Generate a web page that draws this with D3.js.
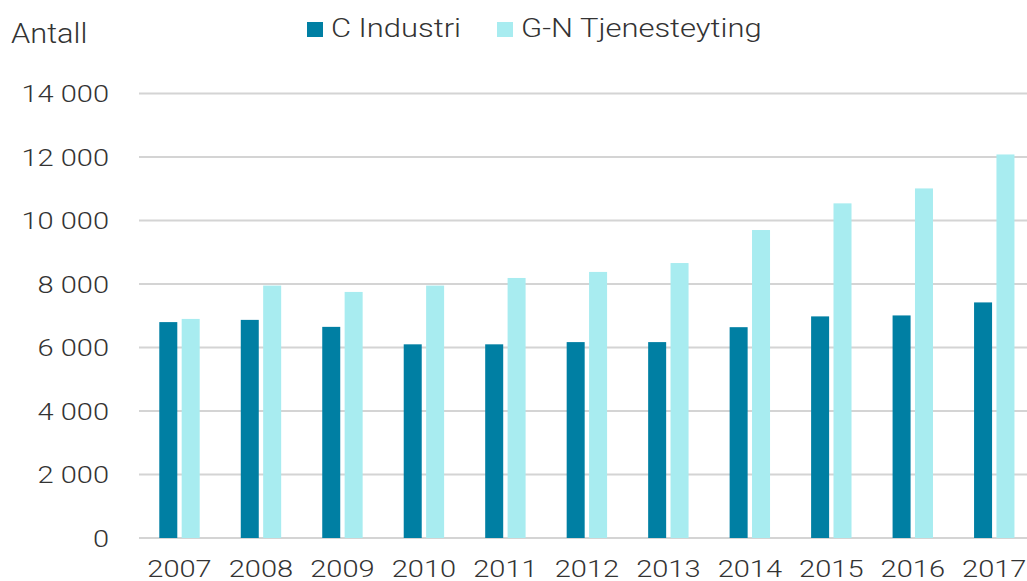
<!DOCTYPE html>
<html><head><meta charset="utf-8">
<script src="https://cdn.jsdelivr.net/npm/d3@7"></script>
<style>body{margin:0;background:#fff}svg{display:block}text{font-family:Roboto,"Noto Sans",sans-serif;font-weight:300;fill:#333}</style>
</head><body><svg id="c" width="1027" height="581"></svg>
<script>
const years = ["2007","2008","2009","2010","2011","2012","2013","2014","2015","2016","2017"];
const industri = [6800,6870,6650,6100,6100,6170,6170,6640,6980,7010,7420];
const tjeneste = [6900,7950,7750,7950,8190,8380,8660,9700,10540,11010,12080];
const seriesNames = ["C Industri","G-N Tjenesteyting"];
const seriesColors = ["#007fa3","#a8ecf0"];
const yTicks = [0,2000,4000,6000,8000,10000,12000,14000];

const svg = d3.select("#c");
const x = d3.scaleBand().domain(years).range([138.75,1035]).paddingInner(0).paddingOuter(0);
const y = d3.scaleLinear().domain([0,14000]).range([538,93.5]);
const fmt = v => d3.format(",")(v).replace(/,/g," ");
const stretch = "scale(1.21,1)";

// gridlines
svg.append("g").selectAll("line").data(yTicks).join("line")
  .attr("x1",139).attr("x2",1027).attr("y1",d=>y(d)).attr("y2",d=>y(d))
  .attr("stroke","#d4d4d4").attr("stroke-width",2);

// y labels
const yAxis = d3.axisLeft(y).tickValues(yTicks).tickFormat(fmt).tickSize(0).tickPadding(0);
const ya = svg.append("g").attr("transform","translate(109,0)").call(yAxis);
ya.select(".domain").remove();
ya.selectAll("text").attr("x",0).attr("font-size",24).attr("dy","0.35em").attr("transform",stretch)
  .style("font-family","Roboto").style("font-weight",300).attr("fill","#333");

// bars
const sub = d3.scaleBand().domain([0,1]).range([0,x.bandwidth()]).paddingInner(0.196).paddingOuter(0.917);
const data = years.map((yr,i)=>({yr,vals:[industri[i],tjeneste[i]]}));
const g = svg.append("g");
g.selectAll("g").data(data).join("g").attr("transform",d=>`translate(${x(d.yr)},0)`)
 .selectAll("rect").data(d=>d.vals.map((v,k)=>({v,k}))).join("rect")
 .attr("x",d=>sub(d.k)).attr("width",sub.bandwidth())
 .attr("y",d=>y(d.v)).attr("height",d=>y(0)-y(d.v))
 .attr("fill",d=>seriesColors[d.k]);

// x labels
const xAxis = d3.axisBottom(x).tickSize(0).tickPadding(0);
const xa = svg.append("g").attr("transform","translate(0,560)").call(xAxis);
xa.select(".domain").remove();
xa.selectAll("text").attr("y",0).attr("font-size",24).attr("dy","0.71em").attr("transform",stretch)
  .style("font-family","Roboto").style("font-weight",300).attr("fill","#333");

// title & legend
svg.append("g").attr("transform","translate(11,43)")
  .append("text").attr("font-size",27).attr("transform","scale(1.14,1)").text("Antall");
const leg = svg.append("g");
const lx = [307,497];
seriesNames.forEach((n,i)=>{
  leg.append("rect").attr("x",lx[i]).attr("y",22).attr("width",16).attr("height",15).attr("fill",seriesColors[i]);
  leg.append("g").attr("transform",`translate(${lx[i]+24},37)`)
    .append("text").attr("font-size",26).attr("transform","scale(1.19,1)").text(n);
});
</script></body></html>
